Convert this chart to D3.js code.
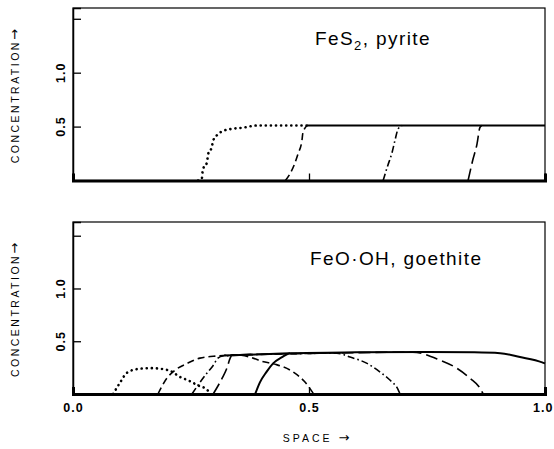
<!DOCTYPE html>
<html>
<head>
<meta charset="utf-8">
<script src="https://cdn.jsdelivr.net/npm/d3@7"></script>
<style>
  body { margin: 0; background: #fff; }
  svg { display: block; }
  text { font-family: "Liberation Sans", Arial, sans-serif; fill: #000; }
</style>
</head>
<body>
<script>
// DATA
const spaceTicks = [0, 0.5, 1.0];
const spaceTickLabels = ["0.0", "0.5", "1.0"];
const concTicks = [0.5, 1.0, 1.5];
const concTickLabels = ["0.5", "1.0", ""];

// pyrite panel (top)
const pyDotX  = [0.265, 0.273, 0.275, 0.284, 0.286, 0.294, 0.297, 0.305, 0.318, 0.339, 0.36, 0.39, 0.44, 0.496];
const pyDotY  = [0, 0.02, 0.10, 0.17, 0.24, 0.31, 0.37, 0.42, 0.46, 0.48, 0.49, 0.51, 0.51, 0.51];
const pyDashX = [0.45, 0.46, 0.47, 0.477, 0.485, 0.487, 0.496];
const pyDashY = [0, 0.065, 0.16, 0.25, 0.37, 0.44, 0.51];
const pyDashDotX = [0.657, 0.667, 0.676, 0.682, 0.689, 0.697];
const pyDashDotY = [0, 0.14, 0.26, 0.37, 0.48, 0.51];
const pyLongX = [0.837, 0.847, 0.856, 0.862, 0.866];
const pyLongY = [0, 0.19, 0.34, 0.49, 0.51];
const pySolidX = [0.496, 1.0];
const pySolidY = [0.51, 0.51];

// goethite panel (bottom)
const goDotX  = [0.085, 0.10, 0.114, 0.136, 0.163, 0.191, 0.21, 0.227, 0.244, 0.263, 0.284, 0.292];
const goDotY  = [0, 0.11, 0.2, 0.236, 0.245, 0.236, 0.21, 0.16, 0.13, 0.085, 0.04, 0];
const goDashX = [0.18, 0.199, 0.216, 0.242, 0.269, 0.305, 0.345, 0.375, 0.40, 0.43, 0.466, 0.49, 0.51];
const goDashY = [0, 0.15, 0.226, 0.29, 0.34, 0.36, 0.37, 0.35, 0.31, 0.28, 0.21, 0.12, 0];
const goDashDotX = [0.252, 0.269, 0.284, 0.297, 0.307, 0.318, 0.45, 0.559, 0.587, 0.623, 0.65, 0.672, 0.689, 0.693];
const goDashDotY = [0, 0.11, 0.2, 0.27, 0.34, 0.36, 0.38, 0.387, 0.35, 0.29, 0.21, 0.13, 0.04, 0];
const goLongX = [0.297, 0.316, 0.326, 0.333, 0.337, 0.5, 0.72, 0.778, 0.813, 0.841, 0.862, 0.869];
const goLongY = [0, 0.15, 0.245, 0.34, 0.37, 0.385, 0.396, 0.32, 0.245, 0.15, 0.057, 0];
const goSolidX = [0.386, 0.396, 0.41, 0.424, 0.443, 0.46, 0.6, 0.75, 0.85, 0.905, 0.947, 0.994, 1.0];
const goSolidY = [0, 0.11, 0.21, 0.29, 0.35, 0.387, 0.395, 0.398, 0.395, 0.387, 0.35, 0.30, 0.29];
const goEnvX = [0.32, 0.39, 0.46];
const goEnvY = [0.365, 0.375, 0.387];

const W = 554, H = 449;
const svg = d3.select("body").append("svg").attr("width", W).attr("height", H);

const x = d3.scaleLinear().domain([0, 1]).range([73, 545]);
const yTop = d3.scaleLinear().domain([0, 1.6]).range([180.5, 8]);
const yBot = d3.scaleLinear().domain([0, 1.63]).range([394, 222]);

const styles = {
  dot:     {dash: "0.1 5", width: 2.6, cap: "round"},
  dash:    {dash: "7 4", width: 1.6, cap: "butt"},
  dashdot: {dash: "7 3 1.6 3", width: 1.6, cap: "butt"},
  long:    {dash: "12 5", width: 1.6, cap: "butt"},
  solid:   {dash: null, width: 2, cap: "butt"}
};

function zip(xs, ys) { return xs.map((v, i) => [v, ys[i]]); }

// label with a bigger arrow glyph at the end
function arrowLabel(sel, word) {
  sel.append("tspan").text(word);
  sel.append("tspan").text("\u2192")
    .style("font-family", "DejaVu Sans, sans-serif").style("font-size", "13px")
    .style("letter-spacing", "0px");
}

function panel(y, series, title, titleY, sub) {
  const g = svg.append("g");
  // frame
  g.append("rect")
    .attr("x", x(0)).attr("y", y.range()[1])
    .attr("width", x(1) - x(0)).attr("height", y(0) - y.range()[1])
    .attr("fill", "none").attr("stroke", "#000").attr("stroke-width", 1.2);

  // y axis ticks (inward)
  const ya = g.append("g").attr("transform", "translate(" + x(0) + ",0)")
    .call(d3.axisLeft(y).tickValues(concTicks).tickSize(-8).tickFormat(""));
  ya.select(".domain").attr("stroke-width", 1.5);
  ya.selectAll(".tick line").attr("stroke-width", 1.3);

  // y tick labels, rotated
  g.selectAll(".ylab").data(concTicks).enter().append("text")
    .attr("class", "ylab")
    .attr("transform", d => "translate(60," + y(d) + ") rotate(-90)")
    .attr("text-anchor", "middle").attr("dy", "0.36em")
    .style("font-size", "12.5px").style("font-weight", "bold").style("letter-spacing", "1px")
    .text((d, i) => concTickLabels[i]);

  // curves
  const line = d3.line().x(d => x(d[0])).y(d => y(d[1])).curve(d3.curveMonotoneX);
  series.forEach(s => {
    const st = styles[s.style];
    g.append("path").datum(zip(s.x, s.y))
      .attr("d", line).attr("fill", "none").attr("stroke", "#000")
      .attr("stroke-width", st.width).attr("stroke-linecap", st.cap)
      .attr("stroke-dasharray", st.dash);
  });

  // x axis (heavy baseline)
  const xa = g.append("g").attr("transform", "translate(0," + y(0) + ")")
    .call(d3.axisBottom(x).tickValues(spaceTicks).tickSize(-7).tickPadding(9)
      .tickFormat((d, i) => sub ? spaceTickLabels[i] : ""));
  xa.select(".domain").attr("stroke-width", 3);
  xa.selectAll(".tick line").attr("stroke-width", 1.3);
  xa.selectAll(".tick text").attr("fill", "#000")
    .style("font-size", "12.5px").style("font-weight", "bold").style("letter-spacing", "1px")
    .style("font-family", "Liberation Sans, Arial, sans-serif");
  // last label sits against the right edge of the page
  xa.selectAll(".tick text").filter(d => d === 1).attr("text-anchor", "end").attr("x", 8);

  // axis title
  g.append("text")
    .attr("transform", "translate(15," + ((y(0) + y.range()[1]) / 2 + 2) + ") rotate(-90)")
    .attr("text-anchor", "middle").attr("dy", "0.36em")
    .style("font-size", "10.5px").style("letter-spacing", "2.5px")
    .call(arrowLabel, "CONCENTRATION");

  // panel title
  const t = g.append("text").attr("x", title.x).attr("y", titleY)
    .style("font-size", "19px").style("letter-spacing", "1.4px");
  title.parts.forEach(p => {
    const ts = t.append("tspan").text(p.t);
    if (p.sub) ts.attr("dy", "5").style("font-size", "13px");
    if (p.back) ts.attr("dy", "-5");
  });
  return g;
}

panel(yTop, [
  {x: pyDotX, y: pyDotY, style: "dot"},
  {x: pyDashX, y: pyDashY, style: "dash"},
  {x: pyDashDotX, y: pyDashDotY, style: "dashdot"},
  {x: pyLongX, y: pyLongY, style: "long"},
  {x: pySolidX, y: pySolidY, style: "solid"}
], {x: 315, parts: [{t: "FeS"}, {t: "2", sub: true}, {t: ", pyrite", back: true}]}, 45, false);

panel(yBot, [
  {x: goDotX, y: goDotY, style: "dot"},
  {x: goDashX, y: goDashY, style: "dash"},
  {x: goDashDotX, y: goDashDotY, style: "dashdot"},
  {x: goLongX, y: goLongY, style: "long"},
  {x: goEnvX, y: goEnvY, style: "solid"},
  {x: goSolidX, y: goSolidY, style: "solid"}
], {x: 310, parts: [{t: "FeO\u00b7OH, goethite"}]}, 265, true);

svg.append("text").attr("x", 316).attr("y", 442)
  .attr("text-anchor", "middle")
  .style("font-size", "10.5px").style("letter-spacing", "3px")
  .call(arrowLabel, "SPACE ");
</script>
</body>
</html>
